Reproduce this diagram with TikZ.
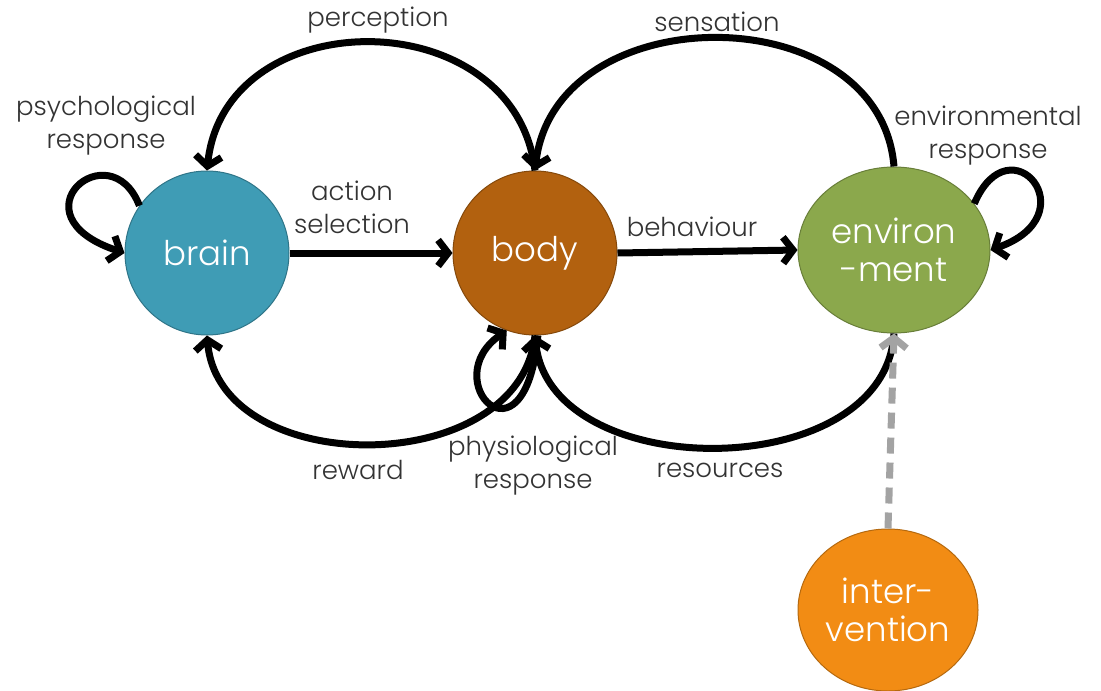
\documentclass[tikz,border=0pt]{standalone}
\usepackage{fontspec}
\setmainfont{Poppins}[UprightFont=* Light]
\usetikzlibrary{arrows.meta,shapes.geometric}
\definecolor{braincol}{HTML}{3F9CB5}
\definecolor{bodycol}{HTML}{B2610F}
\definecolor{envcol}{HTML}{8BA84C}
\definecolor{intcol}{HTML}{F28C14}
\definecolor{labelgray}{HTML}{333333}
\definecolor{dashgray}{HTML}{A3A3A3}
\begin{document}
\begin{tikzpicture}[x=1pt,y=-1pt,
  lbl/.style={text=labelgray, font=\fontsize{26}{33}\selectfont, align=center, inner sep=1pt},
  blob/.style={circle, draw=#1!75!black, line width=1pt, fill=#1, text=white,
    font=\fontsize{34}{38}\selectfont, align=center, inner sep=0pt},
  conn/.style={line width=7pt, -{Straight Barb[length=10pt,width=26pt]}},
  dconn/.style={line width=7pt, draw=dashgray, dash pattern=on 16pt off 9pt,
    -{Straight Barb[length=10pt,width=26pt]}}
]
\useasboundingbox[fill=white] (0,0) rectangle (1101,691);

% nodes
\node[blob=braincol, minimum size=164pt] (brain) at (207,253) {brain};
\node[blob=bodycol, minimum size=164pt] (body) at (535,253) {body};
\node[blob=envcol, ellipse, minimum width=192pt, minimum height=166pt] (env) at (894,250) {environ\\-ment};
\node[blob=intcol, ellipse, minimum width=180pt, minimum height=162pt] (int) at (888,610) {inter-\\vention};

% connectors
\draw[conn] (body.north) .. controls (515,0) and (225,0) .. (brain.north);
\draw[conn] (env.north) .. controls (880,-5) and (555,-5) .. (body.north);
\draw[conn] (body.south) .. controls (520,480) and (220,480) .. (brain.south);
\draw[conn] (env.south) .. controls (885,485) and (550,485) .. (body.south);
\draw[conn] (brain.east) -- (body.west);
\draw[conn] (body.east) -- (env.west);
\draw[conn] (brain.145) .. controls (110,130) and (10,215) .. (brain.west);
\draw[conn] (env.30) .. controls (1010,120) and (1090,215) .. (env.east);
\draw[conn] (body.272) .. controls (525,475) and (435,380) .. (body.250);
\draw[dconn] (int.north) -- (env.south);

% labels
\node[lbl] (lperc) at (378,20) {perception};
\node[lbl] (lsens) at (717,22) {sensation};
\node[lbl] (lpsy) at (106,126) {psychological\\response};
\node[lbl] (lenv) at (988,136) {environmental\\response};
\node[lbl] (lact) at (352,207) {action\\selection};
\node[lbl] (lbeh) at (692,227) {behaviour};
\node[lbl] (lrew) at (358,470) {reward};
\node[lbl] (lphys) at (533,466) {physiological\\response};
\node[lbl] (lres) at (720,470) {resources};
\end{tikzpicture}
\end{document}
